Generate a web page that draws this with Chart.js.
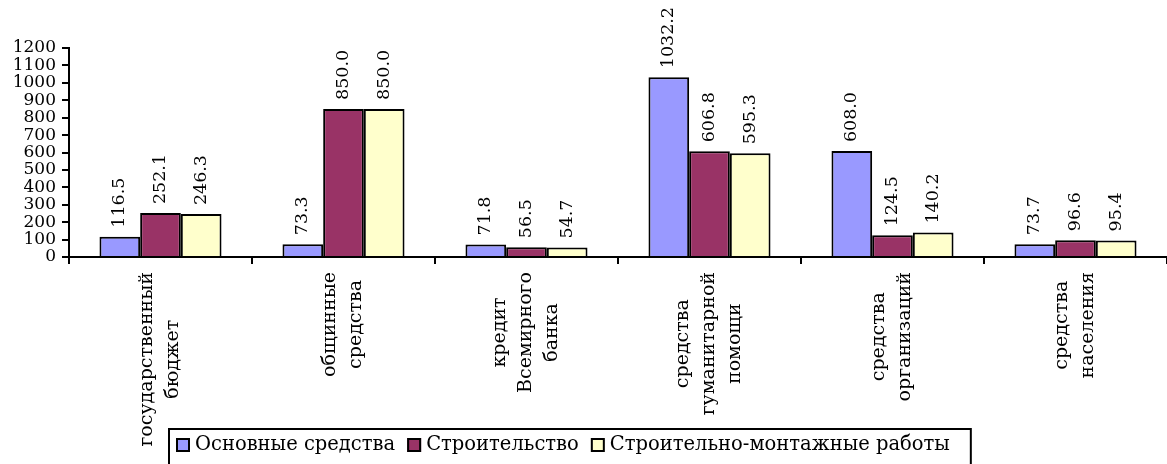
<!DOCTYPE html>
<html><head><meta charset="utf-8">
<script src="https://cdn.jsdelivr.net/npm/chart.js@4"></script>
<style>html,body{margin:0;padding:0;background:#fff;overflow:hidden}#wrap{width:1167px;height:464px;position:relative}</style>
</head><body><div id="wrap"><canvas id="c"></canvas></div>
<script>
const categories = [
  ["государственный","бюджет"],
  ["общинные","средства"],
  ["кредит","Всемирного","банка"],
  ["средства","гуманитарной","помощи"],
  ["средства","организаций"],
  ["средства","населения"]
];
const seriesNames = ["Основные средства","Строительство","Строительно-монтажные работы"];
const fixedAssets  = [116.5, 73.3, 71.8, 1032.2, 608.0, 73.7];
const construction = [252.1, 850.0, 56.5, 606.8, 124.5, 96.6];
const installation = [246.3, 850.0, 54.7, 595.3, 140.2, 95.4];
const yMin = 0, yMax = 1200, yStep = 100;
const seriesColors = ["#9999FF","#993366","#FFFFCC"];

const FONT = '"DejaVu Serif", serif';

const customDraw = {
  id: 'customDraw',
  afterDatasetsDraw(chart) {
    const ctx = chart.ctx;
    ctx.save();
    ctx.fillStyle = '#000';
    // value labels
    ctx.font = '17.5px ' + FONT;
    chart.data.datasets.forEach((ds, di) => {
      const meta = chart.getDatasetMeta(di);
      meta.data.forEach((bar, i) => {
        ctx.save();
        ctx.translate(bar.x, bar.y - 9);
        ctx.rotate(-Math.PI / 2);
        ctx.textAlign = 'left';
        ctx.textBaseline = 'middle';
        ctx.fillText(ds.data[i].toFixed(1), 0, 0);
        ctx.restore();
      });
    });
    // category labels
    const xs = chart.scales.x;
    ctx.font = '19px ' + FONT;
    chart.data.labels.forEach((lab, i) => {
      const lines = Array.isArray(lab) ? lab : [lab];
      const w = Math.max(...lines.map(l => ctx.measureText(l).width));
      const x = xs.getPixelForValue(i);
      const lh = 26;
      ctx.save();
      ctx.translate(x, 272);
      ctx.rotate(-Math.PI / 2);
      ctx.textAlign = 'center';
      ctx.textBaseline = 'middle';
      lines.forEach((l, j) => ctx.fillText(l, -w / 2, (j - (lines.length - 1) / 2) * lh));
      ctx.restore();
    });
    // legend
    ctx.font = '19.5px ' + FONT;
    let lx = 176;
    const ly = 445;
    chart.data.datasets.forEach(ds => {
      ctx.fillStyle = ds.backgroundColor;
      ctx.fillRect(lx, ly - 7, 14, 14);
      ctx.strokeStyle = '#000';
      ctx.lineWidth = 2;
      ctx.strokeRect(lx + 1, ly - 6, 12, 12);
      ctx.fillStyle = '#000';
      ctx.textAlign = 'left';
      ctx.textBaseline = 'middle';
      ctx.fillText(ds.label, lx + 19, ly);
      lx += 19 + ctx.measureText(ds.label).width + 12;
    });
    ctx.lineWidth = 2;
    ctx.strokeStyle = '#000';
    ctx.strokeRect(169, 429, lx + 9 - 169, 50);
    ctx.restore();
  }
};

const datasets = [fixedAssets, construction, installation].map((d, k) => ({
  label: seriesNames[k],
  data: d,
  backgroundColor: seriesColors[k],
  borderColor: '#000',
  borderWidth: 2,
  categoryPercentage: 0.667,
  barPercentage: 1.0
}));

new Chart(document.getElementById('c'), {
  type: 'bar',
  data: { labels: categories, datasets },
  options: {
    responsive: true,
    maintainAspectRatio: false,
    animation: false,
    layout: { padding: { top: 48, left: 0, right: 0, bottom: 0 } },
    plugins: { legend: { display: false }, tooltip: { enabled: false } },
    scales: {
      x: {
        grid: { display: true, drawOnChartArea: false, drawTicks: true, tickLength: 7, color: '#000', lineWidth: 2, offset: true },
        border: { display: true, color: '#000', width: 2 },
        ticks: { display: false },
        afterFit: s => { s.height = 207; }
      },
      y: {
        min: yMin, max: yMax,
        grid: { display: true, drawOnChartArea: false, drawTicks: true, tickLength: 7, color: '#000', lineWidth: 2 },
        border: { display: true, color: '#000', width: 2 },
        ticks: { stepSize: yStep, autoSkip: false, color: '#000', padding: 6,
                 font: { family: FONT, size: 17, lineHeight: 1 },
                 callback: v => String(v) },
        afterFit: s => { s.width = 69; }
      }
    }
  },
  plugins: [customDraw]
});
</script></body></html>
